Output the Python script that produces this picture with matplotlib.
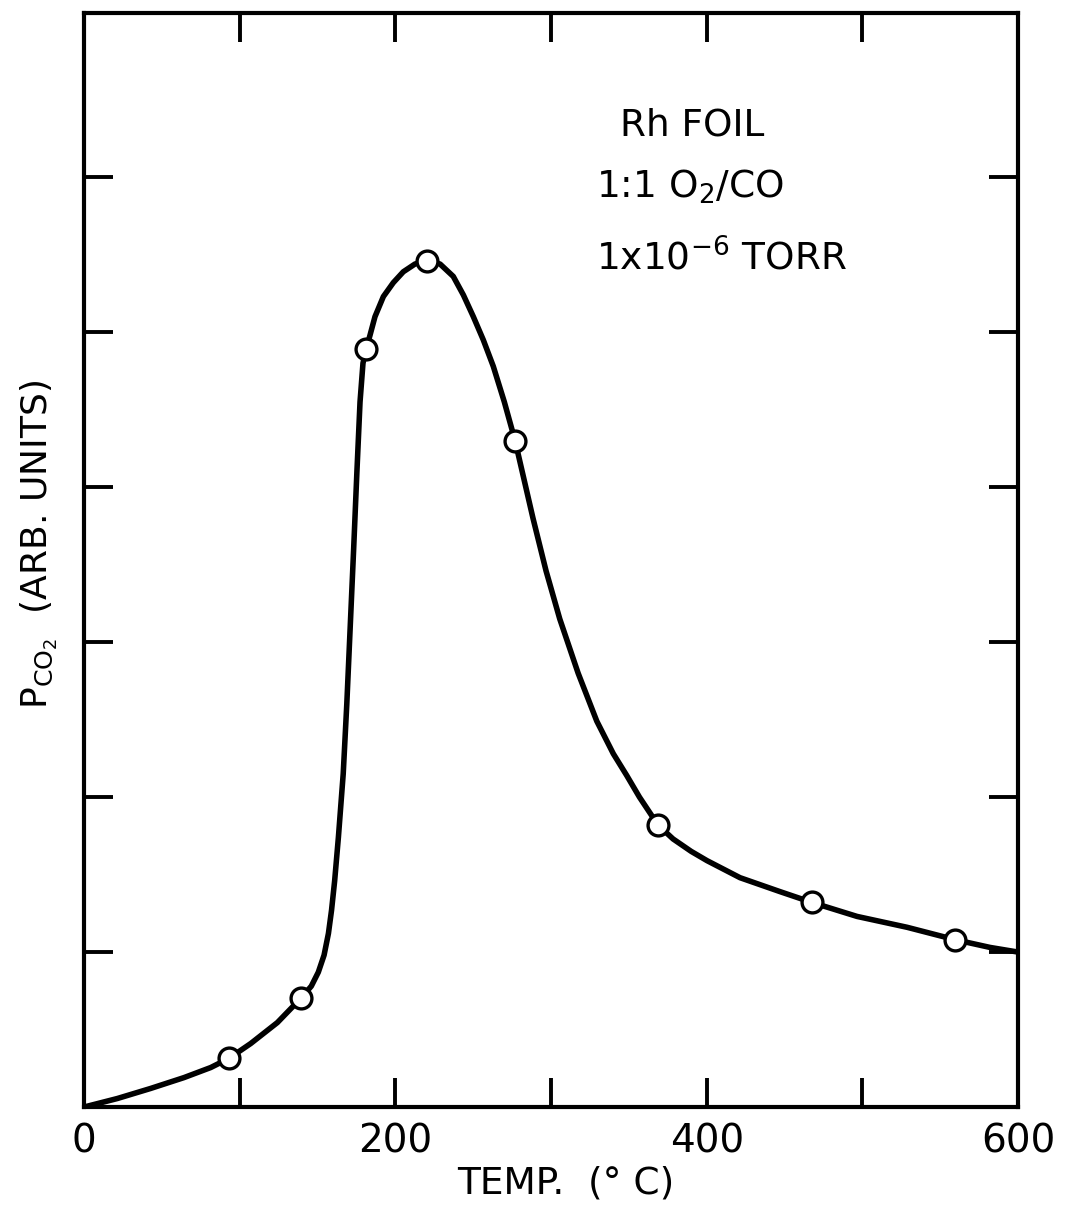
import matplotlib
matplotlib.use("Agg")
from matplotlib import pyplot as plt

plt.rcParams['font.family'] = ['DejaVu Sans']
plt.rcParams['mathtext.default'] = 'regular'

# measured points (open circles)
temp_pts = [93.1, 139.2, 181.2, 220.5, 276.9, 368.7, 467.7, 559.5]
pco2_pts = [0.314, 0.701, 4.89, 5.46, 4.30, 1.82, 1.32, 1.08]

# hand drawn curve
temp_curve = [0, 21.4, 42.8, 64.2, 81.4, 93.1, 107.1, 124.2, 139.2, 146.0,
              150.5, 154.2, 157.0, 159.0, 161.0, 163.4, 166.5, 168.8, 171.0,
              173.2, 175.3, 177.3, 179.2, 181.2, 183.7, 186.9, 192.3, 198.7,
              205.1, 212.6, 220.5, 228.7, 237.2, 243.7, 250.1, 256.5, 262.9,
              270.0, 276.9, 288.4, 296.8, 305.6, 317.4, 329.4, 340.0, 348.6,
              356.8, 368.7, 378.4, 390.0, 400.2, 421.4, 447.1, 467.7, 496.6,
              528.7, 559.5, 582.0, 600.0]
pco2_curve = [0, 0.055, 0.12, 0.19, 0.255, 0.314, 0.41, 0.545, 0.701, 0.78,
              0.87, 0.98, 1.12, 1.27, 1.46, 1.74, 2.15, 2.60, 3.10,
              3.60, 4.10, 4.55, 4.80, 4.89, 4.98, 5.10, 5.23, 5.32,
              5.39, 5.44, 5.46, 5.44, 5.36, 5.24, 5.10, 4.95, 4.78,
              4.55, 4.30, 3.80, 3.46, 3.15, 2.80, 2.49, 2.28, 2.14,
              2.00, 1.82, 1.73, 1.65, 1.59, 1.48, 1.39, 1.32, 1.23,
              1.16, 1.08, 1.03, 1.00]

x_ticks = [0, 100, 200, 300, 400, 500, 600]
x_labels = ['0', '', '200', '', '400', '', '600']
y_ticks = [1, 2, 3, 4, 5, 6]

fig = plt.figure(figsize=(10.65, 12.12), dpi=100)
ax = fig.add_axes([0.0789, 0.0866, 0.877, 0.9027])

ax.plot(temp_curve, pco2_curve, color='black', lw=4.0, solid_capstyle='round',
        solid_joinstyle='round', zorder=2)
ax.plot(temp_pts, pco2_pts, 'o', ms=15, mfc='white', mec='black', mew=2.4,
        zorder=3)

ax.set_xlim(0, 600)
ax.set_ylim(0, 7.06)
ax.set_xticks(x_ticks)
ax.set_xticklabels(x_labels)
ax.set_yticks(y_ticks)
ax.set_yticklabels([])

for s in ax.spines.values():
    s.set_linewidth(3)
ax.tick_params(direction='in', length=21, width=2.8, top=True, right=True,
               labelsize=28, pad=11)

ax.set_xlabel('TEMP.  (° C)', fontsize=27)
ax.xaxis.set_label_coords(0.516, -0.053)
ax.set_ylabel(r'$P_{CO_2}$  (ARB. UNITS)', fontsize=26)
ax.yaxis.set_label_coords(-0.026, 0.514)

ax.text(0.574, 0.8876, 'Rh FOIL', transform=ax.transAxes, fontsize=27,
        ha='left', va='baseline')
ax.text(0.548, 0.8309, '1:1 O$_2$/CO', transform=ax.transAxes, fontsize=27,
        ha='left', va='baseline')
ax.text(0.548, 0.7651, '1x10$^{-6}$ TORR', transform=ax.transAxes, fontsize=27,
        ha='left', va='baseline')

fig.savefig('out.png', dpi=100)
